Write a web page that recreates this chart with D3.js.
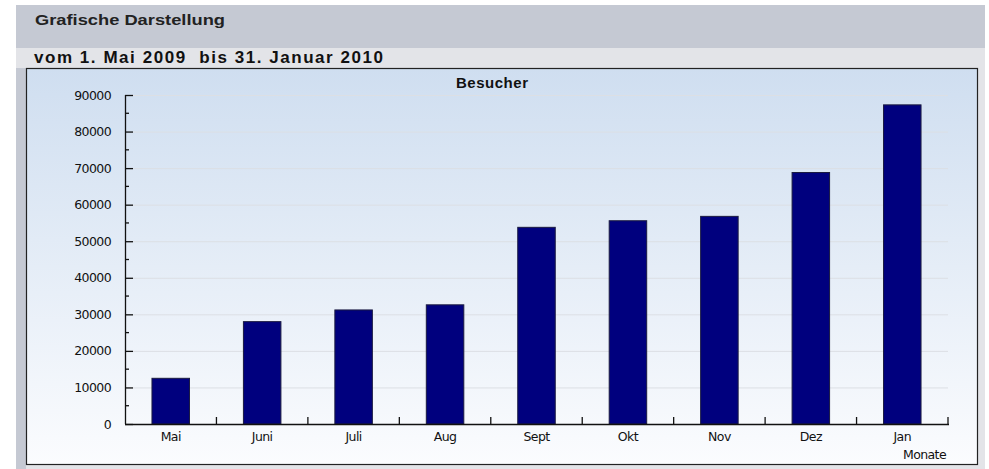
<!DOCTYPE html>
<html>
<head>
<meta charset="utf-8">
<script src="https://cdn.jsdelivr.net/npm/d3@7"></script>
<style>
  body { margin: 0; background: #fff; }
  text { font-family: "DejaVu Sans", sans-serif; }
</style>
</head>
<body>
<script>
var months = ['Mai', 'Juni', 'Juli', 'Aug', 'Sept', 'Okt', 'Nov', 'Dez', 'Jan']
var visitors = [12500, 28000, 31200, 32600, 53800, 55600, 56800, 68800, 87300]
var yTicks = [0, 10000, 20000, 30000, 40000, 50000, 60000, 70000, 80000, 90000]

var W = 989, H = 469
var plot = {left: 125, right: 948, top: 95, bottom: 424}

var svg = d3.select('body').append('svg')
  .attr('width', W)
  .attr('height', H)

var defs = svg.append('defs')
var grad = defs.append('linearGradient')
  .attr('id', 'bg')
  .attr('x1', 0).attr('y1', 0).attr('x2', 0).attr('y2', 1)
grad.append('stop').attr('offset', '0%').attr('stop-color', '#cfdef0')
grad.append('stop').attr('offset', '100%').attr('stop-color', '#fbfcfe')

// header bands
svg.append('rect').attr('x', 16).attr('y', 5).attr('width', 969).attr('height', 464).attr('fill', '#c5c9d3')
svg.append('rect').attr('x', 16).attr('y', 48).attr('width', 969).attr('height', 421).attr('fill', '#e3e4e8')
svg.append('rect').attr('x', 16).attr('y', 68).attr('width', 10).attr('height', 401).attr('fill', '#c5c9d3')

svg.append('text')
  .attr('x', 35).attr('y', 25)
  .style('font-family', '"Liberation Sans", Arial, sans-serif')
  .style('font-weight', 'bold').style('font-size', '15px')
  .attr('textLength', 190).attr('lengthAdjust', 'spacingAndGlyphs')
  .attr('fill', '#222')
  .text('Grafische Darstellung')

svg.append('text')
  .attr('x', 34).attr('y', 63)
  .style('font-family', '"Liberation Sans", Arial, sans-serif')
  .style('font-weight', 'bold').style('font-size', '17px')
  .attr('textLength', 349).attr('lengthAdjust', 'spacing')
  .attr('fill', '#111')
  .attr('xml:space', 'preserve')
  .text('vom 1. Mai 2009  bis 31. Januar 2010')

// chart box
svg.append('rect')
  .attr('x', 26.5).attr('y', 68.5).attr('width', 951).attr('height', 396)
  .attr('fill', 'url(#bg)')
  .attr('stroke', '#222').attr('stroke-width', 1.2)

svg.append('text')
  .attr('x', 456).attr('y', 88)
  .style('font-family', '"Liberation Sans", Arial, sans-serif')
  .style('font-weight', 'bold').style('font-size', '15px')
  .attr('textLength', 72).attr('lengthAdjust', 'spacing')
  .attr('fill', '#111')
  .text('Besucher')

var x = d3.scaleBand()
  .domain(months)
  .range([plot.left, plot.right])
  .paddingInner(0.59)
  .paddingOuter(0.295)

var y = d3.scaleLinear()
  .domain([0, 90000])
  .range([plot.bottom, plot.top])

// grid lines
svg.append('g')
  .selectAll('line')
  .data(yTicks.slice(1))
  .join('line')
  .attr('x1', plot.left + 8).attr('x2', plot.right)
  .attr('y1', d => y(d) + 0.5).attr('y2', d => y(d) + 0.5)
  .attr('stroke', '#dcdfe4').attr('stroke-width', 1)

// bars
svg.append('g')
  .selectAll('rect')
  .data(visitors)
  .join('rect')
  .attr('x', (d, i) => x(months[i]))
  .attr('y', d => y(d))
  .attr('width', x.bandwidth())
  .attr('height', d => y(0) - y(d))
  .attr('fill', '#00007e')
  .attr('stroke', '#1a1a40').attr('stroke-width', 1)

// y axis: ticks pointing inward
var yAxis = d3.axisRight(y)
  .tickValues(yTicks)
  .tickSize(8)
  .tickFormat('')
var gy = svg.append('g')
  .attr('transform', 'translate(' + plot.left + ',0)')
  .call(yAxis)
gy.select('.domain').attr('d', 'M0.5,' + plot.top + 'V' + plot.bottom).attr('stroke', '#111').attr('stroke-width', 1.3)
gy.selectAll('.tick line').attr('stroke', '#111').attr('stroke-width', 1.3)

var minor = d3.range(5000, 90000, 10000)
svg.append('g')
  .selectAll('line')
  .data(minor)
  .join('line')
  .attr('x1', plot.left).attr('x2', plot.left + 4)
  .attr('y1', d => y(d)).attr('y2', d => y(d))
  .attr('stroke', '#111').attr('stroke-width', 1.3)

svg.append('g')
  .selectAll('text')
  .data(yTicks)
  .join('text')
  .attr('x', plot.left - 14)
  .attr('y', d => y(d) + 4.5)
  .attr('text-anchor', 'end')
  .style('font-size', '12.5px')
  .style('letter-spacing', '-0.6px')
  .attr('fill', '#111')
  .text(d => d)

// x axis
svg.append('line')
  .attr('x1', plot.left).attr('x2', plot.right + 1)
  .attr('y1', plot.bottom + 0.5).attr('y2', plot.bottom + 0.5)
  .attr('stroke', '#111').attr('stroke-width', 1.3)

var step = x.step()
var bounds = d3.range(1, months.length + 1)
svg.append('g')
  .selectAll('line')
  .data(bounds)
  .join('line')
  .attr('x1', d => x(months[0]) - x.step() * x.paddingOuter() + d * step)
  .attr('x2', d => x(months[0]) - x.step() * x.paddingOuter() + d * step)
  .attr('y1', plot.bottom).attr('y2', plot.bottom - 7)
  .attr('stroke', '#111').attr('stroke-width', 1.3)

svg.append('g')
  .selectAll('text')
  .data(months)
  .join('text')
  .attr('x', d => x(d) + x.bandwidth() / 2)
  .attr('y', plot.bottom + 17)
  .attr('text-anchor', 'middle')
  .style('font-size', '12.5px')
  .style('letter-spacing', '-0.6px')
  .attr('fill', '#111')
  .text(d => d)

svg.append('text')
  .attr('x', plot.right - 2)
  .attr('y', plot.bottom + 35)
  .attr('text-anchor', 'end')
  .style('font-size', '12.5px')
  .style('letter-spacing', '-0.6px')
  .attr('fill', '#111')
  .text('Monate')
</script>
</body>
</html>
